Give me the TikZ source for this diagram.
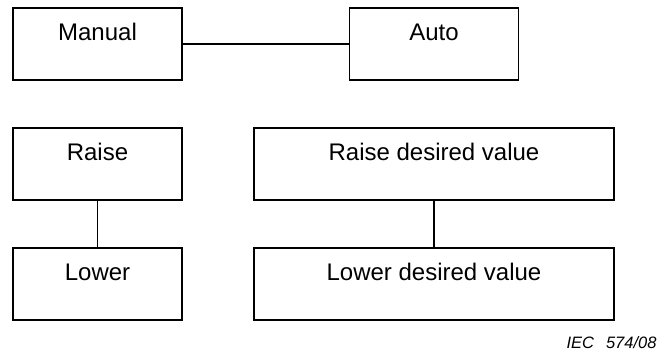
\documentclass[tikz,border=0pt]{standalone}
\usepackage{fontspec}
\setmainfont{Liberation Sans}
\usetikzlibrary{calc}
\tikzset{
  box/.style={draw, line width=1.9pt, rectangle, inner sep=0pt, minimum height=72pt},
  lbl/.style={anchor=base, inner sep=0pt, font=\fontsize{24}{28}\selectfont},
  link/.style={line width=1.9pt},
}
\begin{document}
\begin{tikzpicture}[x=1pt,y=-1pt]
\useasboundingbox (0,0) rectangle (658,356);
\node[box, minimum width=169pt] (manual) at (97.5,44) {};
\node[box, minimum width=169pt] (auto) at (434,44) {};
\node[box, minimum width=169pt] (raise) at (97.5,164) {};
\node[box, minimum width=169pt] (lower) at (97.5,284) {};
\node[box, minimum width=360.6pt] (rdv) at (434,164) {};
\node[box, minimum width=360.6pt] (ldv) at (434,284) {};
\node[lbl] (manualt) at ($(manual.north)+(0,33.9)$) {Manual};
\node[lbl] (autot) at ($(auto.north)+(0,33.9)$) {Auto};
\node[lbl] (raiset) at ($(raise.north)+(0,33.9)$) {Raise};
\node[lbl] (lowert) at ($(lower.north)+(0,33.9)$) {Lower};
\node[lbl] (rdvt) at ($(rdv.north)+(0,33.9)$) {Raise desired value};
\node[lbl] (ldvt) at ($(ldv.north)+(0,33.9)$) {Lower desired value};
\draw[link] (manual.east) -- (auto.west);
\draw[link] (raise.south) -- (lower.north);
\draw[link] (rdv.south) -- (ldv.north);
\node[anchor=base east, inner sep=0pt, font=\fontsize{16.5}{20}\selectfont\itshape] (iec) at (656.7,348.3) {IEC\hspace{12pt}574/08};
\end{tikzpicture}
\end{document}
